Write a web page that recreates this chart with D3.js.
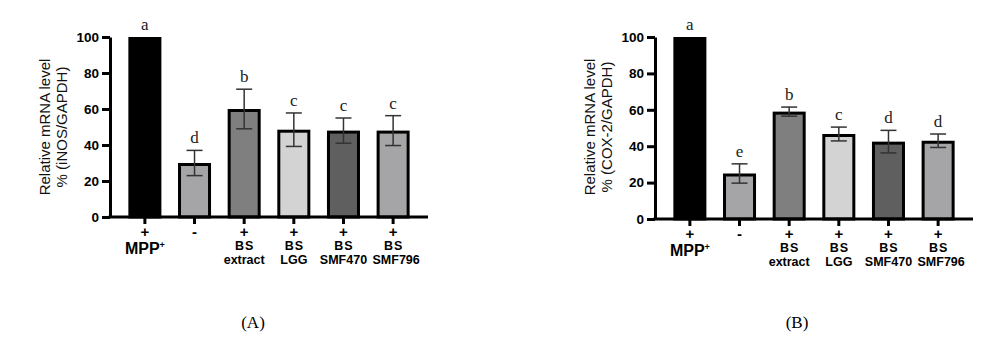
<!DOCTYPE html>
<html>
<head>
<meta charset="utf-8">
<script src="https://cdn.jsdelivr.net/npm/d3@7"></script>
<style>
  body { margin: 0; background: #fff; }
  text { font-family: Arial, 'Liberation Sans', sans-serif; }
</style>
</head>
<body>
<script>
const width = 992
const height = 339

// grupos y datos
const grupos = ['MPP+', '-', 'BS extract', 'BS LGG', 'BS SMF470', 'BS SMF796']
const signos = ['+', '-', '+', '+', '+', '+']
const linea1 = ['MPP', '', 'BS', 'BS', 'BS', 'BS']
const linea2 = ['', '', 'extract', 'LGG', 'SMF470', 'SMF796']
const yTicks = [0, 20, 40, 60, 80, 100]

const inosMedia = [100, 30, 60, 48.5, 48, 48]
const inosError = [0, 7, 11, 9.3, 7, 8.3]
const inosLetras = ['a', 'd', 'b', 'c', 'c', 'c']

const coxMedia = [100, 25, 59, 46.7, 42.5, 43]
const coxError = [0, 5.3, 2.5, 3.8, 6.2, 3.7]
const coxLetras = ['a', 'e', 'b', 'c', 'd', 'd']

const relleno = ['#000000', '#a5a5a8', '#7f7f7f', '#d3d3d3', '#5f5f5f', '#a5a5a8']

const svg = d3.select('body').append('svg').attr('width', width).attr('height', height)

function panel(x0, y0, y100, media, error, letras, etiquetaY, titulo, xTitulo) {
  const x = d3.scaleBand().domain(grupos).range([x0, x0 + 318]).paddingInner(0.335).paddingOuter(0.37)
  const y = d3.scaleLinear().domain([0, 100]).range([y0, y100])
  const g = svg.append('g')
  const datos = grupos.map((k, i) => ({ k, i, m: media[i], e: error[i], l: letras[i] }))

  // barras
  g.selectAll('rect.bar')
    .data(datos)
    .join('rect')
    .attr('class', 'bar')
    .attr('x', d => x(d.k) + 1.5)
    .attr('width', x.bandwidth() - 3)
    .attr('y', d => y(d.m) + 1.5)
    .attr('height', d => y0 - y(d.m) - 1.5)
    .style('fill', d => relleno[d.i])
    .style('stroke', '#000')
    .attr('stroke-width', 3)

  // barras de error
  const eb = g.selectAll('g.err').data(datos.filter(d => d.e > 0)).join('g').attr('class', 'err')
  eb.append('line')
    .attr('x1', d => x(d.k) + x.bandwidth() / 2).attr('x2', d => x(d.k) + x.bandwidth() / 2)
    .attr('y1', d => y(d.m + d.e)).attr('y2', d => y(d.m - d.e))
  eb.append('line')
    .attr('x1', d => x(d.k) + x.bandwidth() / 2 - 8).attr('x2', d => x(d.k) + x.bandwidth() / 2 + 8)
    .attr('y1', d => y(d.m + d.e)).attr('y2', d => y(d.m + d.e))
  eb.append('line')
    .attr('x1', d => x(d.k) + x.bandwidth() / 2 - 8).attr('x2', d => x(d.k) + x.bandwidth() / 2 + 8)
    .attr('y1', d => y(d.m - d.e)).attr('y2', d => y(d.m - d.e))
  eb.selectAll('line').style('stroke', '#333').attr('stroke-width', 1.5)

  // letras de significancia
  g.selectAll('text.letra')
    .data(datos)
    .join('text')
    .attr('class', 'letra')
    .attr('x', d => x(d.k) + x.bandwidth() / 2)
    .attr('y', d => y(d.m + d.e) - 7)
    .attr('text-anchor', 'middle')
    .style('font-family', "'Liberation Serif', serif")
    .attr('font-size', '17px')
    .style('fill', '#222')
    .text(d => d.l)

  // eje y
  const ejeY = g.append('g')
    .attr('transform', `translate(${x0},0)`)
    .call(d3.axisLeft(y).tickValues(yTicks).tickSize(8).tickSizeOuter(0).tickPadding(3))
  ejeY.select('.domain').attr('stroke-width', 3)
  ejeY.selectAll('.tick line').attr('stroke-width', 3)
  ejeY.selectAll('.tick text').attr('font-size', '13.5px').attr('font-weight', 'bold').style('fill', '#000')

  // eje x
  g.append('line')
    .attr('x1', x0 - 1.5).attr('x2', x0 + 318)
    .attr('y1', y0).attr('y2', y0)
    .style('stroke', '#000').attr('stroke-width', 3)
  g.selectAll('line.xt')
    .data(datos)
    .join('line')
    .attr('class', 'xt')
    .attr('x1', d => x(d.k) + x.bandwidth() / 2).attr('x2', d => x(d.k) + x.bandwidth() / 2)
    .attr('y1', y0).attr('y2', y0 + 7)
    .style('stroke', '#000').attr('stroke-width', 3)

  const etiquetas = g.selectAll('g.lab').data(datos).join('g').attr('class', 'lab')
    .attr('transform', d => `translate(${x(d.k) + x.bandwidth() / 2},0)`)
  etiquetas.append('text')
    .attr('y', y0 + 20)
    .attr('text-anchor', 'middle')
    .attr('font-size', '15px').attr('font-weight', 'bold')
    .text(d => signos[d.i])
  etiquetas.append('text')
    .attr('x', d => d.i === 0 ? 0 : 0.5)
    .attr('y', d => d.i === 0 ? y0 + 37 : y0 + 33)
    .attr('text-anchor', 'middle')
    .attr('font-size', d => d.i === 0 ? '16px' : '12.5px').attr('font-weight', 'bold')
    .attr('letter-spacing', d => d.i === 0 ? '0px' : '1px')
    .text(d => linea1[d.i])
    .filter(d => d.i === 0)
    .append('tspan').attr('dy', -6).attr('font-size', '9px').text('+')
  etiquetas.append('text')
    .attr('x', d => d.i === 5 ? 3 : 0)
    .attr('y', y0 + 47)
    .attr('text-anchor', 'middle')
    .attr('font-size', '12.5px').attr('font-weight', 'bold')
    .text(d => linea2[d.i])

  // titulo eje y
  const ty = g.append('text')
    .attr('transform', `translate(${x0 - 60},127) rotate(-90)`)
    .attr('text-anchor', 'middle')
    .attr('font-size', '15px')
    .style('fill', '#111')
  ty.append('tspan').attr('x', 0).attr('y', 0).text(etiquetaY[0])
  ty.append('tspan').attr('x', 0).attr('y', 17).text(etiquetaY[1])

  // (A) / (B)
  svg.append('text')
    .attr('x', xTitulo).attr('y', 328)
    .attr('text-anchor', 'middle')
    .style('font-family', "'Liberation Serif', serif")
    .attr('font-size', '17px')
    .text(titulo)
}

panel(110, 217, 37, inosMedia, inosError, inosLetras, ['Relative mRNA  level', '% (iNOS/GAPDH)'], '(A)', 253)
panel(655, 219, 37, coxMedia, coxError, coxLetras, ['Relative mRNA level', '% (COX-2/GAPDH)'], '(B)', 797)
</script>
</body>
</html>
